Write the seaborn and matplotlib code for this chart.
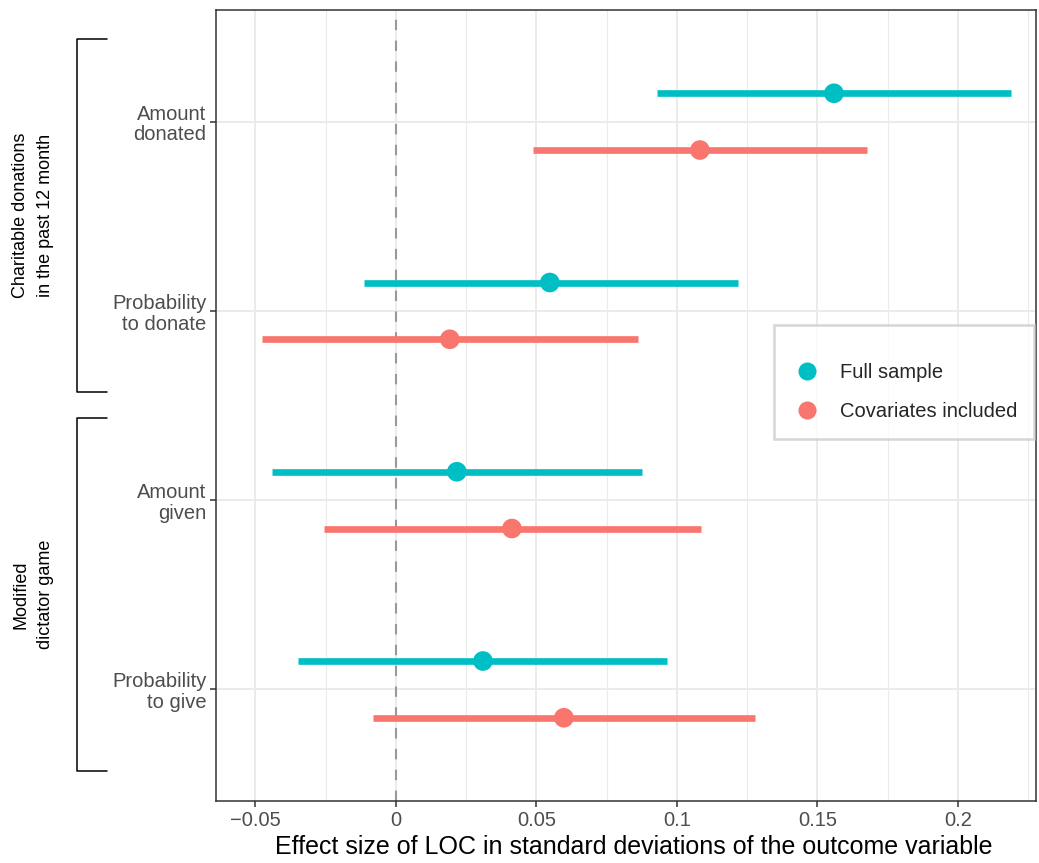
import numpy as np
import pandas as pd
import matplotlib
matplotlib.use("Agg")
import matplotlib.pyplot as plt
from matplotlib.lines import Line2D
import seaborn as sns

# Effect sizes (estimate, lower CI, upper CI)
outcomes = ["Amount\ndonated", "Probability\nto donate", "Amount\ngiven", "Probability\nto give"]
samples = ["Full sample", "Covariates included"]
full_est = [0.1559, 0.0548, 0.0217, 0.0310]
full_lo = [0.0929, -0.0114, -0.0441, -0.0349]
full_hi = [0.2189, 0.1217, 0.0875, 0.0964]
cov_est = [0.1082, 0.0192, 0.0413, 0.0598]
cov_lo = [0.0488, -0.0477, -0.0256, -0.0082]
cov_hi = [0.1676, 0.0861, 0.1085, 0.1278]
groups = ["Charitable donations\nin the past 12 month", "Modified\ndictator game"]
xticks = [-0.05, 0, 0.05, 0.1, 0.15, 0.2]
xticklabels = ["\u22120.05", "0", "0.05", "0.1", "0.15", "0.2"]

colors = {"Full sample": "#00BFC4", "Covariates included": "#F8766D"}
offsets = {"Full sample": -0.15, "Covariates included": 0.15}

rows = []
for s, est, lo, hi in [(samples[0], full_est, full_lo, full_hi),
                       (samples[1], cov_est, cov_lo, cov_hi)]:
    for i, o in enumerate(outcomes):
        rows.append({"outcome": o, "sample": s, "est": est[i], "lo": lo[i], "hi": hi[i],
                     "ypos": i + offsets[s]})
df = pd.DataFrame(rows)

sns.set_theme(style="white")
plt.rcParams["font.family"] = ["Liberation Sans", "DejaVu Sans"]

fig = plt.figure(figsize=(10.39, 8.63), dpi=100)
ax = fig.add_axes([0.2079, 0.0718, 0.7892, 0.9166])

# grid
ax.set_xticks(np.arange(-0.075, 0.226, 0.025), minor=True)
ax.grid(which="major", axis="both", color="#EBEBEB", linewidth=1.4, zorder=0)
ax.grid(which="minor", axis="x", color="#EBEBEB", linewidth=0.8, zorder=0)
ax.set_axisbelow(True)

ax.axvline(0, color="#999999", linestyle=(0, (5, 5)), linewidth=1.5, zorder=1)

for s in samples:
    d = df[df["sample"] == s]
    ax.hlines(d["ypos"], d["lo"], d["hi"], color=colors[s], linewidth=4.8, zorder=2)

sns.scatterplot(data=df, x="est", y="ypos", hue="sample", palette=colors,
                s=200, edgecolor="none", legend=False, ax=ax, zorder=3)

ax.set_xlim(-0.064, 0.2278)
ax.set_ylim(3.59, -0.59)
ax.set_yticks(range(len(outcomes)))
ax.set_yticklabels(outcomes, fontsize=14.5, color="#4D4D4D", linespacing=1.12)
ax.set_xticks(xticks)
ax.set_xticklabels(xticklabels, fontsize=14.5, color="#4D4D4D")
ax.tick_params(axis="both", which="major", length=4, width=1.1, color="#333333",
               left=True, bottom=True, pad=3)
ax.tick_params(axis="both", which="minor", length=0)
ax.set_xlabel("Effect size of LOC in standard deviations of the outcome variable",
              fontsize=18.0, color="black", labelpad=4)
ax.xaxis.label.set_x(0.5098)
ax.set_ylabel("")
for sp in ax.spines.values():
    sp.set_color("#333333")
    sp.set_linewidth(1.1)

# legend
handles = [Line2D([0], [0], marker="o", linestyle="none", markersize=13,
                  markerfacecolor=colors[s], markeredgecolor="none") for s in samples]
leg = ax.legend(handles, samples, loc="upper right", bbox_to_anchor=(0.9976, 0.6018),
                title=" ", title_fontsize=1, fontsize=14.5, frameon=True, fancybox=False,
                borderpad=0.85, labelspacing=1.0, handlelength=1.6, handletextpad=0.8,
                borderaxespad=0)
leg.get_frame().set_edgecolor("#CCCCCC")
leg.get_frame().set_linewidth(1.8)

# brackets with group labels
W, H = 1039, 863
def fx(px):
    return px / W
def fy(py):
    return 1 - py / H

for (top, bot), g in zip([(39, 392), (418, 771)], groups):
    fig.add_artist(Line2D([fx(107), fx(77), fx(77), fx(107)],
                          [fy(top), fy(top), fy(bot), fy(bot)],
                          color="black", linewidth=1.1))
    fig.text(fx(33), fy((top + bot) / 2), g, rotation=90, ha="center", va="center",
             fontsize=13, color="black", linespacing=1.55)

fig.savefig("out.png", dpi=100)
